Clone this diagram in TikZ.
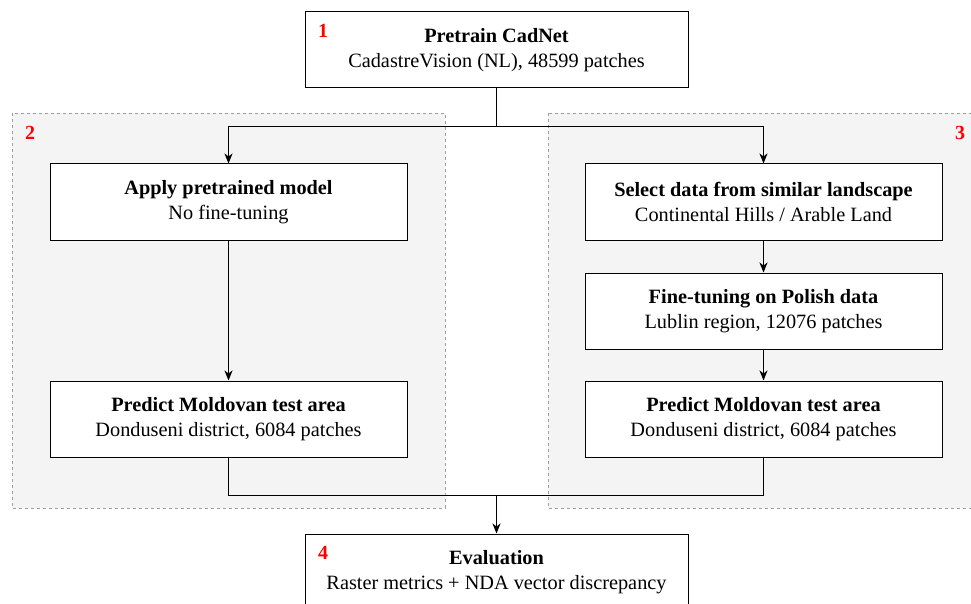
\documentclass[tikz,border=0pt]{standalone}
\usepackage{fontspec}
\setmainfont[Ligatures=TeX]{Liberation Serif}
\usetikzlibrary{arrows.meta}

\tikzset{
    stagebox/.style={draw, fill=white, line width=1pt, minimum width=357pt, minimum height=76pt,
        inner sep=0pt, align=center, font=\rmfamily\fontsize{20.3}{25}\selectfont,
        execute at begin node={\rule{0pt}{18pt}}},
    widebox/.style={stagebox, minimum width=383pt},
    panel/.style={draw=gray!75, dashed, fill=gray!9, line width=0.7pt},
    stepnum/.style={text=red, font=\rmfamily\fontsize{20}{20}\selectfont\bfseries},
    link/.style={line width=0.9pt},
    flow/.style={link, -{Stealth[length=10pt, width=8pt, inset=3pt]}}
}

\begin{document}
\begin{tikzpicture}[x=1pt, y=-1pt]
    \useasboundingbox (0,0) rectangle (971,604);

    % Panels
    \draw[panel] (12,113) rectangle (445,508);
    \draw[panel] (548,113) rectangle (995,508);

    % Draw nodes
    \node[widebox] (pretrain) at (496.5,50) {\textbf{Pretrain CadNet}\\CadastreVision (NL), 48599 patches};
    \node[stagebox] (apply) at (228.5,202) {\textbf{Apply pretrained model}\\No fine-tuning};
    \node[stagebox] (predL) at (228.5,419) {\textbf{Predict Moldovan test area}\\Donduseni district, 6084 patches};
    \node[stagebox] (select) at (763.5,202) {\textbf{Select data from similar landscape}\\Continental Hills / Arable Land};
    \node[stagebox] (finetune) at (763.5,311) {\textbf{Fine-tuning on Polish data}\\Lublin region, 12076 patches};
    \node[stagebox] (predR) at (763.5,419) {\textbf{Predict Moldovan test area}\\Donduseni district, 6084 patches};
    \node[widebox] (eval) at (496.5,572) {\textbf{Evaluation}\\Raster metrics + NDA vector discrepancy};

    % Step numbers
    \node[stepnum] (n1) at (323,31) {1};
    \node[stepnum] (n2) at (30,133) {2};
    \node[stepnum] (n3) at (960,133) {3};
    \node[stepnum] (n4) at (323,553) {4};

    % Draw connections
    \coordinate (split) at (496.5,126);
    \coordinate (merge) at (496.5,495);
    \draw[link] (pretrain.south) -- (split);
    \draw[flow] (split) -| (apply.north);
    \draw[flow] (split) -| (select.north);
    \draw[flow] (apply) -- (predL);
    \draw[flow] (select) -- (finetune);
    \draw[flow] (finetune) -- (predR);
    \draw[link] (predL.south) |- (merge);
    \draw[link] (predR.south) |- (merge);
    \draw[flow] (merge) -- (eval);
\end{tikzpicture}
\end{document}
